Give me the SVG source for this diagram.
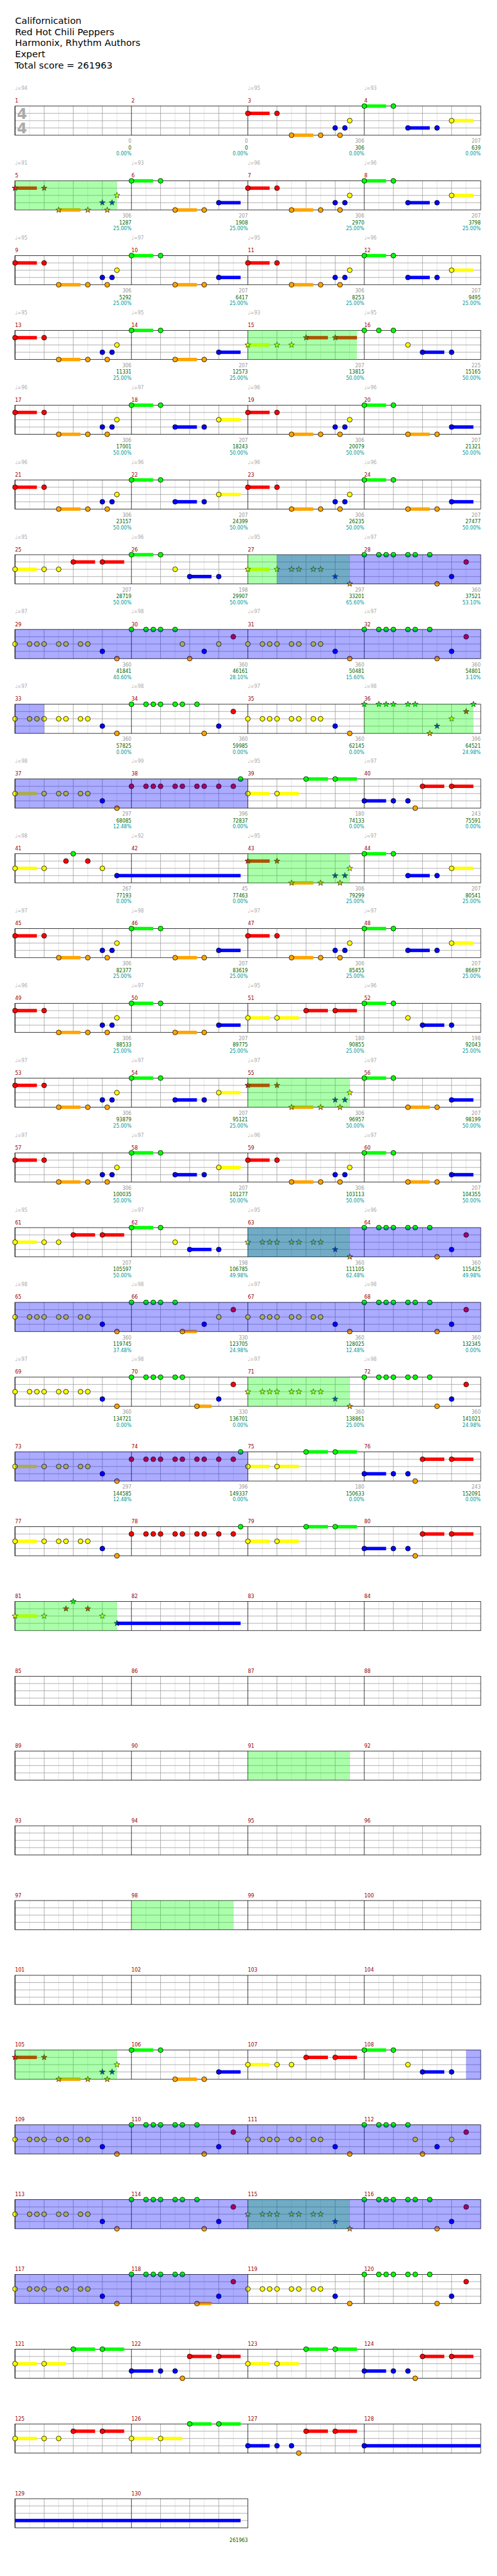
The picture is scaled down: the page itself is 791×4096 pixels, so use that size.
<svg xmlns="http://www.w3.org/2000/svg" xmlns:xlink="http://www.w3.org/1999/xlink" width="791" height="4096" viewBox="0 0 791 4096">
<style>
text{font-family:"DejaVu Sans Condensed","DejaVu Sans",sans-serif;font-stretch:condensed;font-size:11px}
.ti{font-family:"DejaVu Sans",sans-serif;font-stretch:normal;font-size:19px;fill:#000}
.ts{font-family:"DejaVu Sans",sans-serif;font-stretch:normal;font-size:30px;font-weight:bold;fill:#aaa}
.tp{fill:#aaa}.mn{fill:#900;font-size:11.5px}
.sc{text-anchor:end;fill:#999}.s2{fill:#060}.s3{fill:#099}
.lt{fill:none;stroke:#ddd}.md{fill:none;stroke:#999}.bk{fill:none;stroke:#000}.bd{fill:none;stroke:#000}
.g{fill:#0f0}.r{fill:#f00}.y{fill:#ff0}.b{fill:#00f}.o{fill:#ffa500}
circle{stroke:#000;stroke-width:1}
.og{fill:#0f0;fill-opacity:.33}.ob{fill:#00f;fill-opacity:.33}
</style>
<defs>
<path id="st" d="M0,-6.3L1.48,-2.04L5.99,-1.95L2.39,0.78L3.7,5.1L0,2.52L-3.7,5.1L-2.39,0.78L-5.99,-1.95L-1.48,-2.04Z" stroke="#000" stroke-width="0.8"/>
<g id="m"><path class="lt" d="M30,0V60M90,0V60M150,0V60M210,0V60"/><path class="md" d="M60,0V60M120,0V60M180,0V60M0,15H240M0,30H240M0,45H240"/><path class="bk" d="M0,0V60"/></g>
<g id="row"><use href="#m" x="31"/><use href="#m" x="271"/><use href="#m" x="511"/><use href="#m" x="751"/><rect class="bd" x="31" y="0" width="960" height="60"/></g>
<g id="rowh"><use href="#m" x="31"/><use href="#m" x="271"/><rect class="bd" x="31" y="0" width="480" height="60"/></g>
<g id="pA"><rect class="r" x="0" y="11.5" width="45" height="7"/><rect class="o" x="90" y="56.5" width="45" height="7"/><circle class="r" cx="0" cy="15" r="5"/><circle class="r" cx="60" cy="15" r="5"/><circle class="o" cx="90" cy="60" r="5"/><circle class="o" cx="150" cy="60" r="5"/><circle class="b" cx="180" cy="45" r="5"/><circle class="o" cx="190" cy="60" r="5"/><circle class="b" cx="200" cy="45" r="5"/><circle class="y" cx="210" cy="30" r="5"/></g>
<g id="pAs"><rect class="r" x="0" y="11.5" width="45" height="7"/><rect class="o" x="90" y="56.5" width="45" height="7"/><use href="#st" class="r" x="0" y="15"/><use href="#st" class="r" x="60" y="15"/><use href="#st" class="o" x="90" y="60"/><use href="#st" class="o" x="150" y="60"/><use href="#st" class="b" x="180" y="45"/><use href="#st" class="o" x="190" y="60"/><use href="#st" class="b" x="200" y="45"/><use href="#st" class="y" x="210" y="30"/></g>
<g id="pB"><rect class="g" x="0" y="-3.5" width="45" height="7"/><rect class="b" x="90" y="41.5" width="45" height="7"/><rect class="y" x="180" y="26.5" width="45" height="7"/><circle class="g" cx="0" cy="0" r="5"/><circle class="g" cx="60" cy="0" r="5"/><circle class="b" cx="90" cy="45" r="5"/><circle class="b" cx="150" cy="45" r="5"/><circle class="y" cx="180" cy="30" r="5"/></g>
<g id="pC"><rect class="g" x="0" y="-3.5" width="45" height="7"/><rect class="o" x="90" y="56.5" width="45" height="7"/><rect class="b" x="180" y="41.5" width="45" height="7"/><circle class="g" cx="0" cy="0" r="5"/><circle class="g" cx="60" cy="0" r="5"/><circle class="o" cx="90" cy="60" r="5"/><circle class="o" cx="150" cy="60" r="5"/><circle class="b" cx="180" cy="45" r="5"/></g>
<g id="pE"><rect class="b" x="120" y="41.5" width="45" height="7"/><circle class="g" cx="0" cy="0" r="5"/><circle class="g" cx="30" cy="0" r="5"/><circle class="g" cx="60" cy="0" r="5"/><circle class="y" cx="90" cy="30" r="5"/><circle class="b" cx="120" cy="45" r="5"/><circle class="b" cx="180" cy="45" r="5"/></g>
<g id="pE2"><rect class="g" x="0" y="-3.5" width="45" height="7"/><rect class="b" x="120" y="41.5" width="45" height="7"/><circle class="g" cx="0" cy="0" r="5"/><circle class="g" cx="60" cy="0" r="5"/><circle class="y" cx="90" cy="30" r="5"/><circle class="b" cx="120" cy="45" r="5"/><circle class="b" cx="180" cy="45" r="5"/></g>
<g id="pY"><rect class="y" x="0" y="26.5" width="45" height="7"/><rect class="r" x="120" y="11.5" width="45" height="7"/><rect class="r" x="180" y="11.5" width="45" height="7"/><circle class="y" cx="0" cy="30" r="5"/><circle class="y" cx="60" cy="30" r="5"/><circle class="y" cx="90" cy="30" r="5"/><circle class="r" cx="120" cy="15" r="5"/><circle class="r" cx="180" cy="15" r="5"/></g>
<g id="pYs"><rect class="y" x="0" y="26.5" width="45" height="7"/><rect class="r" x="120" y="11.5" width="45" height="7"/><rect class="r" x="180" y="11.5" width="45" height="7"/><use href="#st" class="y" x="0" y="30"/><use href="#st" class="y" x="60" y="30"/><use href="#st" class="y" x="90" y="30"/><use href="#st" class="r" x="120" y="15"/><use href="#st" class="r" x="180" y="15"/></g>
<g id="pF"><circle class="g" cx="0" cy="0" r="5"/><circle class="g" cx="30" cy="0" r="5"/><circle class="g" cx="45" cy="0" r="5"/><circle class="g" cx="60" cy="0" r="5"/><circle class="g" cx="90" cy="0" r="5"/><circle class="g" cx="105" cy="0" r="5"/><circle class="g" cx="135" cy="0" r="5"/><circle class="o" cx="150" cy="60" r="5"/><circle class="b" cx="180" cy="45" r="5"/><circle class="r" cx="210" cy="15" r="5"/></g>
<g id="pG"><circle class="y" cx="0" cy="30" r="5"/><circle class="y" cx="30" cy="30" r="5"/><circle class="y" cx="45" cy="30" r="5"/><circle class="y" cx="60" cy="30" r="5"/><circle class="y" cx="90" cy="30" r="5"/><circle class="y" cx="105" cy="30" r="5"/><circle class="y" cx="135" cy="30" r="5"/><circle class="y" cx="150" cy="30" r="5"/><circle class="b" cx="180" cy="45" r="5"/><circle class="o" cx="210" cy="60" r="5"/></g>
<g id="pGs"><use href="#st" class="y" x="0" y="30"/><use href="#st" class="y" x="30" y="30"/><use href="#st" class="y" x="45" y="30"/><use href="#st" class="y" x="60" y="30"/><use href="#st" class="y" x="90" y="30"/><use href="#st" class="y" x="105" y="30"/><use href="#st" class="y" x="135" y="30"/><use href="#st" class="y" x="150" y="30"/><use href="#st" class="b" x="180" y="45"/><use href="#st" class="o" x="210" y="60"/></g>
<g id="pH"><circle class="g" cx="0" cy="0" r="5"/><circle class="g" cx="30" cy="0" r="5"/><circle class="g" cx="45" cy="0" r="5"/><circle class="g" cx="60" cy="0" r="5"/><circle class="g" cx="90" cy="0" r="5"/><circle class="y" cx="105" cy="30" r="5"/><circle class="o" cx="120" cy="60" r="5"/><circle class="b" cx="150" cy="45" r="5"/><circle class="y" cx="180" cy="30" r="5"/><circle class="r" cx="210" cy="15" r="5"/></g>
<g id="pH2"><rect class="o" x="105" y="56.5" width="30" height="7"/><circle class="g" cx="0" cy="0" r="5"/><circle class="g" cx="30" cy="0" r="5"/><circle class="g" cx="45" cy="0" r="5"/><circle class="g" cx="60" cy="0" r="5"/><circle class="g" cx="90" cy="0" r="5"/><circle class="o" cx="105" cy="60" r="5"/><circle class="b" cx="150" cy="45" r="5"/><circle class="y" cx="180" cy="30" r="5"/><circle class="r" cx="210" cy="15" r="5"/></g>
<g id="pH3"><rect class="o" x="135" y="56.5" width="30" height="7"/><circle class="g" cx="0" cy="0" r="5"/><circle class="g" cx="30" cy="0" r="5"/><circle class="g" cx="45" cy="0" r="5"/><circle class="g" cx="60" cy="0" r="5"/><circle class="g" cx="90" cy="0" r="5"/><circle class="g" cx="105" cy="0" r="5"/><circle class="o" cx="135" cy="60" r="5"/><circle class="b" cx="180" cy="45" r="5"/><circle class="r" cx="210" cy="15" r="5"/></g>
<g id="pKs"><rect class="y" x="0" y="26.5" width="45" height="7"/><use href="#st" class="y" x="0" y="30"/><use href="#st" class="y" x="60" y="30"/><use href="#st" class="y" x="90" y="30"/><use href="#st" class="y" x="105" y="30"/><use href="#st" class="y" x="135" y="30"/><use href="#st" class="y" x="150" y="30"/><use href="#st" class="b" x="180" y="45"/><use href="#st" class="o" x="210" y="60"/></g>
<g id="pL"><rect class="y" x="0" y="26.5" width="45" height="7"/><circle class="y" cx="0" cy="30" r="5"/><circle class="y" cx="60" cy="30" r="5"/><circle class="y" cx="90" cy="30" r="5"/><circle class="y" cx="105" cy="30" r="5"/><circle class="y" cx="135" cy="30" r="5"/><circle class="y" cx="150" cy="30" r="5"/><circle class="b" cx="180" cy="45" r="5"/><circle class="o" cx="210" cy="60" r="5"/></g>
<g id="pIs"><use href="#st" class="g" x="0" y="0"/><use href="#st" class="g" x="30" y="0"/><use href="#st" class="g" x="45" y="0"/><use href="#st" class="g" x="60" y="0"/><use href="#st" class="g" x="90" y="0"/><use href="#st" class="g" x="105" y="0"/><use href="#st" class="o" x="135" y="60"/><use href="#st" class="b" x="150" y="45"/><use href="#st" class="y" x="180" y="30"/><use href="#st" class="r" x="210" y="15"/><use href="#st" class="g" x="225" y="0"/></g>
<g id="pM"><circle class="r" cx="0" cy="15" r="5"/><circle class="r" cx="30" cy="15" r="5"/><circle class="r" cx="45" cy="15" r="5"/><circle class="r" cx="60" cy="15" r="5"/><circle class="r" cx="90" cy="15" r="5"/><circle class="r" cx="105" cy="15" r="5"/><circle class="r" cx="135" cy="15" r="5"/><circle class="r" cx="150" cy="15" r="5"/><circle class="r" cx="180" cy="15" r="5"/><circle class="r" cx="210" cy="15" r="5"/><circle class="g" cx="225" cy="0" r="5"/></g>
<g id="pN"><rect class="y" x="0" y="26.5" width="45" height="7"/><rect class="y" x="60" y="26.5" width="45" height="7"/><rect class="g" x="120" y="-3.5" width="45" height="7"/><rect class="g" x="180" y="-3.5" width="45" height="7"/><circle class="y" cx="0" cy="30" r="5"/><circle class="y" cx="60" cy="30" r="5"/><circle class="g" cx="120" cy="0" r="5"/><circle class="g" cx="180" cy="0" r="5"/></g>
<g id="pN2"><rect class="y" x="0" y="26.5" width="45" height="7"/><rect class="y" x="60" y="26.5" width="45" height="7"/><rect class="r" x="120" y="11.5" width="45" height="7"/><rect class="r" x="180" y="11.5" width="45" height="7"/><circle class="y" cx="0" cy="30" r="5"/><circle class="y" cx="60" cy="30" r="5"/><circle class="r" cx="120" cy="15" r="5"/><circle class="r" cx="180" cy="15" r="5"/></g>
<g id="pP"><rect class="b" x="0" y="41.5" width="45" height="7"/><rect class="r" x="120" y="11.5" width="45" height="7"/><rect class="r" x="180" y="11.5" width="45" height="7"/><circle class="b" cx="0" cy="45" r="5"/><circle class="b" cx="60" cy="45" r="5"/><circle class="b" cx="90" cy="45" r="5"/><circle class="o" cx="105" cy="60" r="5"/><circle class="r" cx="120" cy="15" r="5"/><circle class="r" cx="180" cy="15" r="5"/></g>
<g id="pQ"><rect class="y" x="0" y="26.5" width="45" height="7"/><rect class="b" x="210" y="41.5" width="255" height="7"/><circle class="y" cx="0" cy="30" r="5"/><circle class="y" cx="60" cy="30" r="5"/><circle class="r" cx="105" cy="15" r="5"/><circle class="g" cx="120" cy="0" r="5"/><circle class="r" cx="150" cy="15" r="5"/><circle class="y" cx="180" cy="30" r="5"/><circle class="b" cx="210" cy="45" r="5"/></g>
<g id="pQs"><rect class="y" x="0" y="26.5" width="45" height="7"/><rect class="b" x="210" y="41.5" width="255" height="7"/><use href="#st" class="y" x="0" y="30"/><use href="#st" class="y" x="60" y="30"/><use href="#st" class="r" x="105" y="15"/><use href="#st" class="g" x="120" y="0"/><use href="#st" class="r" x="150" y="15"/><use href="#st" class="y" x="180" y="30"/><use href="#st" class="b" x="210" y="45"/></g>
</defs>
<rect width="791" height="4096" fill="#fff"/>
<g transform="scale(0.772)">
<g id="title">
<text class="ti" x="31" y="49">Californication</text>
<text class="ti" x="31" y="72">Red Hot Chili Peppers</text>
<text class="ti" x="31" y="95">Harmonix, Rhythm Authors</text>
<text class="ti" x="31" y="118">Expert</text>
<text class="ti" x="30" y="141">Total score = 261963</text>
</g>

<g id="r0" transform="translate(0,218.5)"><use href="#row"/>
<g id="m1"><text class="tp" x="31" y="-33">♩=94</text><text class="mn" x="31" y="-7">1</text><text class="ts" x="35" y="26.5">4</text><text class="ts" x="35" y="56.5">4</text><text class="sc" x="271" y="76">0</text><text class="sc s2" x="271" y="89.5">0</text><text class="sc s3" x="271" y="102">0.00%</text></g>
<g id="m2"><text class="mn" x="271" y="-7">2</text><text class="sc" x="511" y="76">0</text><text class="sc s2" x="511" y="89.5">0</text><text class="sc s3" x="511" y="102">0.00%</text></g>
<g id="m3"><text class="tp" x="511" y="-33">♩=95</text><text class="mn" x="511" y="-7">3</text><use href="#pA" x="511"/><text class="sc" x="751" y="76">306</text><text class="sc s2" x="751" y="89.5">306</text><text class="sc s3" x="751" y="102">0.00%</text></g>
<g id="m4"><text class="tp" x="751" y="-33">♩=93</text><text class="mn" x="751" y="-7">4</text><use href="#pB" x="751"/><text class="sc" x="991" y="76">207</text><text class="sc s2" x="991" y="89.5">639</text><text class="sc s3" x="991" y="102">0.00%</text></g>
</g>

<g id="r1" transform="translate(0,372.5)"><use href="#row"/>
<g id="m5"><text class="tp" x="31" y="-33">♩=91</text><text class="mn" x="31" y="-7">5</text><use href="#pAs" x="31"/><text class="sc" x="271" y="76">306</text><text class="sc s2" x="271" y="89.5">1287</text><text class="sc s3" x="271" y="102">25.00%</text></g>
<g id="m6"><text class="tp" x="271" y="-33">♩=93</text><text class="mn" x="271" y="-7">6</text><use href="#pC" x="271"/><text class="sc" x="511" y="76">207</text><text class="sc s2" x="511" y="89.5">1908</text><text class="sc s3" x="511" y="102">25.00%</text></g>
<g id="m7"><text class="tp" x="511" y="-33">♩=96</text><text class="mn" x="511" y="-7">7</text><use href="#pA" x="511"/><text class="sc" x="751" y="76">306</text><text class="sc s2" x="751" y="89.5">2970</text><text class="sc s3" x="751" y="102">25.00%</text></g>
<g id="m8"><text class="tp" x="751" y="-33">♩=96</text><text class="mn" x="751" y="-7">8</text><use href="#pB" x="751"/><text class="sc" x="991" y="76">207</text><text class="sc s2" x="991" y="89.5">3798</text><text class="sc s3" x="991" y="102">25.00%</text></g>
<rect class="og" x="31" y="0" width="210" height="60"/>
</g>

<g id="r2" transform="translate(0,526.5)"><use href="#row"/>
<g id="m9"><text class="tp" x="31" y="-33">♩=95</text><text class="mn" x="31" y="-7">9</text><use href="#pA" x="31"/><text class="sc" x="271" y="76">306</text><text class="sc s2" x="271" y="89.5">5292</text><text class="sc s3" x="271" y="102">25.00%</text></g>
<g id="m10"><text class="tp" x="271" y="-33">♩=97</text><text class="mn" x="271" y="-7">10</text><use href="#pC" x="271"/><text class="sc" x="511" y="76">207</text><text class="sc s2" x="511" y="89.5">6417</text><text class="sc s3" x="511" y="102">25.00%</text></g>
<g id="m11"><text class="tp" x="511" y="-33">♩=95</text><text class="mn" x="511" y="-7">11</text><use href="#pA" x="511"/><text class="sc" x="751" y="76">306</text><text class="sc s2" x="751" y="89.5">8253</text><text class="sc s3" x="751" y="102">25.00%</text></g>
<g id="m12"><text class="tp" x="751" y="-33">♩=96</text><text class="mn" x="751" y="-7">12</text><use href="#pB" x="751"/><text class="sc" x="991" y="76">207</text><text class="sc s2" x="991" y="89.5">9495</text><text class="sc s3" x="991" y="102">25.00%</text></g>
</g>

<g id="r3" transform="translate(0,680.5)"><use href="#row"/>
<g id="m13"><text class="tp" x="31" y="-33">♩=95</text><text class="mn" x="31" y="-7">13</text><use href="#pA" x="31"/><text class="sc" x="271" y="76">306</text><text class="sc s2" x="271" y="89.5">11331</text><text class="sc s3" x="271" y="102">25.00%</text></g>
<g id="m14"><text class="tp" x="271" y="-33">♩=95</text><text class="mn" x="271" y="-7">14</text><use href="#pC" x="271"/><text class="sc" x="511" y="76">207</text><text class="sc s2" x="511" y="89.5">12573</text><text class="sc s3" x="511" y="102">25.00%</text></g>
<g id="m15"><text class="tp" x="511" y="-33">♩=93</text><text class="mn" x="511" y="-7">15</text><use href="#pYs" x="511"/><text class="sc" x="751" y="76">207</text><text class="sc s2" x="751" y="89.5">13815</text><text class="sc s3" x="751" y="102">50.00%</text></g>
<g id="m16"><text class="tp" x="751" y="-33">♩=95</text><text class="mn" x="751" y="-7">16</text><use href="#pE" x="751"/><text class="sc" x="991" y="76">225</text><text class="sc s2" x="991" y="89.5">15165</text><text class="sc s3" x="991" y="102">50.00%</text></g>
<rect class="og" x="511" y="0" width="225" height="60"/>
</g>

<g id="r4" transform="translate(0,834.5)"><use href="#row"/>
<g id="m17"><text class="tp" x="31" y="-33">♩=96</text><text class="mn" x="31" y="-7">17</text><use href="#pA" x="31"/><text class="sc" x="271" y="76">306</text><text class="sc s2" x="271" y="89.5">17001</text><text class="sc s3" x="271" y="102">50.00%</text></g>
<g id="m18"><text class="tp" x="271" y="-33">♩=97</text><text class="mn" x="271" y="-7">18</text><use href="#pB" x="271"/><text class="sc" x="511" y="76">207</text><text class="sc s2" x="511" y="89.5">18243</text><text class="sc s3" x="511" y="102">50.00%</text></g>
<g id="m19"><text class="tp" x="511" y="-33">♩=96</text><text class="mn" x="511" y="-7">19</text><use href="#pA" x="511"/><text class="sc" x="751" y="76">306</text><text class="sc s2" x="751" y="89.5">20079</text><text class="sc s3" x="751" y="102">50.00%</text></g>
<g id="m20"><text class="tp" x="751" y="-33">♩=96</text><text class="mn" x="751" y="-7">20</text><use href="#pC" x="751"/><text class="sc" x="991" y="76">207</text><text class="sc s2" x="991" y="89.5">21321</text><text class="sc s3" x="991" y="102">50.00%</text></g>
</g>

<g id="r5" transform="translate(0,988.5)"><use href="#row"/>
<g id="m21"><text class="tp" x="31" y="-33">♩=96</text><text class="mn" x="31" y="-7">21</text><use href="#pA" x="31"/><text class="sc" x="271" y="76">306</text><text class="sc s2" x="271" y="89.5">23157</text><text class="sc s3" x="271" y="102">50.00%</text></g>
<g id="m22"><text class="tp" x="271" y="-33">♩=96</text><text class="mn" x="271" y="-7">22</text><use href="#pB" x="271"/><text class="sc" x="511" y="76">207</text><text class="sc s2" x="511" y="89.5">24399</text><text class="sc s3" x="511" y="102">50.00%</text></g>
<g id="m23"><text class="tp" x="511" y="-33">♩=96</text><text class="mn" x="511" y="-7">23</text><use href="#pA" x="511"/><text class="sc" x="751" y="76">306</text><text class="sc s2" x="751" y="89.5">26235</text><text class="sc s3" x="751" y="102">50.00%</text></g>
<g id="m24"><text class="tp" x="751" y="-33">♩=96</text><text class="mn" x="751" y="-7">24</text><use href="#pC" x="751"/><text class="sc" x="991" y="76">207</text><text class="sc s2" x="991" y="89.5">27477</text><text class="sc s3" x="991" y="102">50.00%</text></g>
</g>

<g id="r6" transform="translate(0,1142.5)"><use href="#row"/>
<g id="m25"><text class="tp" x="31" y="-33">♩=95</text><text class="mn" x="31" y="-7">25</text><use href="#pY" x="31"/><text class="sc" x="271" y="76">207</text><text class="sc s2" x="271" y="89.5">28719</text><text class="sc s3" x="271" y="102">50.00%</text></g>
<g id="m26"><text class="tp" x="271" y="-33">♩=96</text><text class="mn" x="271" y="-7">26</text><use href="#pE2" x="271"/><text class="sc" x="511" y="76">198</text><text class="sc s2" x="511" y="89.5">29907</text><text class="sc s3" x="511" y="102">50.00%</text></g>
<g id="m27"><text class="tp" x="511" y="-33">♩=95</text><text class="mn" x="511" y="-7">27</text><use href="#pKs" x="511"/><text class="sc" x="751" y="76">297</text><text class="sc s2" x="751" y="89.5">33201</text><text class="sc s3" x="751" y="102">65.60%</text></g>
<g id="m28"><text class="tp" x="751" y="-33">♩=97</text><text class="mn" x="751" y="-7">28</text><use href="#pF" x="751"/><text class="sc" x="991" y="76">360</text><text class="sc s2" x="991" y="89.5">37521</text><text class="sc s3" x="991" y="102">53.10%</text></g>
<rect class="og" x="511" y="0" width="210" height="60"/><rect class="ob" x="571" y="0" width="420" height="60"/>
</g>

<g id="r7" transform="translate(0,1296.5)"><use href="#row"/>
<g id="m29"><text class="tp" x="31" y="-33">♩=97</text><text class="mn" x="31" y="-7">29</text><use href="#pG" x="31"/><text class="sc" x="271" y="76">360</text><text class="sc s2" x="271" y="89.5">41841</text><text class="sc s3" x="271" y="102">40.60%</text></g>
<g id="m30"><text class="tp" x="271" y="-33">♩=98</text><text class="mn" x="271" y="-7">30</text><use href="#pH" x="271"/><text class="sc" x="511" y="76">360</text><text class="sc s2" x="511" y="89.5">46161</text><text class="sc s3" x="511" y="102">28.10%</text></g>
<g id="m31"><text class="tp" x="511" y="-33">♩=97</text><text class="mn" x="511" y="-7">31</text><use href="#pG" x="511"/><text class="sc" x="751" y="76">360</text><text class="sc s2" x="751" y="89.5">50481</text><text class="sc s3" x="751" y="102">15.60%</text></g>
<g id="m32"><text class="tp" x="751" y="-33">♩=97</text><text class="mn" x="751" y="-7">32</text><use href="#pF" x="751"/><text class="sc" x="991" y="76">360</text><text class="sc s2" x="991" y="89.5">54801</text><text class="sc s3" x="991" y="102">3.10%</text></g>
<rect class="ob" x="31" y="0" width="960" height="60"/>
</g>

<g id="r8" transform="translate(0,1450.5)"><use href="#row"/>
<g id="m33"><text class="tp" x="31" y="-33">♩=97</text><text class="mn" x="31" y="-7">33</text><use href="#pG" x="31"/><text class="sc" x="271" y="76">360</text><text class="sc s2" x="271" y="89.5">57825</text><text class="sc s3" x="271" y="102">0.00%</text></g>
<g id="m34"><text class="tp" x="271" y="-33">♩=98</text><text class="mn" x="271" y="-7">34</text><use href="#pF" x="271"/><text class="sc" x="511" y="76">360</text><text class="sc s2" x="511" y="89.5">59985</text><text class="sc s3" x="511" y="102">0.00%</text></g>
<g id="m35"><text class="tp" x="511" y="-33">♩=97</text><text class="mn" x="511" y="-7">35</text><use href="#pG" x="511"/><text class="sc" x="751" y="76">360</text><text class="sc s2" x="751" y="89.5">62145</text><text class="sc s3" x="751" y="102">0.00%</text></g>
<g id="m36"><text class="tp" x="751" y="-33">♩=98</text><text class="mn" x="751" y="-7">36</text><use href="#pIs" x="751"/><text class="sc" x="991" y="76">396</text><text class="sc s2" x="991" y="89.5">64521</text><text class="sc s3" x="991" y="102">24.98%</text></g>
<rect class="ob" x="31" y="0" width="60" height="60"/><rect class="og" x="751" y="0" width="225" height="60"/>
</g>

<g id="r9" transform="translate(0,1604.5)"><use href="#row"/>
<g id="m37"><text class="tp" x="31" y="-33">♩=98</text><text class="mn" x="31" y="-7">37</text><use href="#pL" x="31"/><text class="sc" x="271" y="76">297</text><text class="sc s2" x="271" y="89.5">68085</text><text class="sc s3" x="271" y="102">12.48%</text></g>
<g id="m38"><text class="tp" x="271" y="-33">♩=99</text><text class="mn" x="271" y="-7">38</text><use href="#pM" x="271"/><text class="sc" x="511" y="76">396</text><text class="sc s2" x="511" y="89.5">72837</text><text class="sc s3" x="511" y="102">0.00%</text></g>
<g id="m39"><text class="tp" x="511" y="-33">♩=95</text><text class="mn" x="511" y="-7">39</text><use href="#pN" x="511"/><text class="sc" x="751" y="76">180</text><text class="sc s2" x="751" y="89.5">74133</text><text class="sc s3" x="751" y="102">0.00%</text></g>
<g id="m40"><text class="tp" x="751" y="-33">♩=97</text><text class="mn" x="751" y="-7">40</text><use href="#pP" x="751"/><text class="sc" x="991" y="76">243</text><text class="sc s2" x="991" y="89.5">75591</text><text class="sc s3" x="991" y="102">0.00%</text></g>
<rect class="ob" x="31" y="0" width="480" height="60"/>
</g>

<g id="r10" transform="translate(0,1758.5)"><use href="#row"/>
<g id="m41"><text class="tp" x="31" y="-33">♩=98</text><text class="mn" x="31" y="-7">41</text><use href="#pQ" x="31"/><text class="sc" x="271" y="76">267</text><text class="sc s2" x="271" y="89.5">77193</text><text class="sc s3" x="271" y="102">0.00%</text></g>
<g id="m42"><text class="tp" x="271" y="-33">♩=92</text><text class="mn" x="271" y="-7">42</text><text class="sc" x="511" y="76">45</text><text class="sc s2" x="511" y="89.5">77463</text><text class="sc s3" x="511" y="102">0.00%</text></g>
<g id="m43"><text class="tp" x="511" y="-33">♩=95</text><text class="mn" x="511" y="-7">43</text><use href="#pAs" x="511"/><text class="sc" x="751" y="76">306</text><text class="sc s2" x="751" y="89.5">79299</text><text class="sc s3" x="751" y="102">25.00%</text></g>
<g id="m44"><text class="tp" x="751" y="-33">♩=97</text><text class="mn" x="751" y="-7">44</text><use href="#pB" x="751"/><text class="sc" x="991" y="76">207</text><text class="sc s2" x="991" y="89.5">80541</text><text class="sc s3" x="991" y="102">25.00%</text></g>
<rect class="og" x="511" y="0" width="210" height="60"/>
</g>

<g id="r11" transform="translate(0,1912.5)"><use href="#row"/>
<g id="m45"><text class="tp" x="31" y="-33">♩=97</text><text class="mn" x="31" y="-7">45</text><use href="#pA" x="31"/><text class="sc" x="271" y="76">306</text><text class="sc s2" x="271" y="89.5">82377</text><text class="sc s3" x="271" y="102">25.00%</text></g>
<g id="m46"><text class="tp" x="271" y="-33">♩=98</text><text class="mn" x="271" y="-7">46</text><use href="#pC" x="271"/><text class="sc" x="511" y="76">207</text><text class="sc s2" x="511" y="89.5">83619</text><text class="sc s3" x="511" y="102">25.00%</text></g>
<g id="m47"><text class="tp" x="511" y="-33">♩=97</text><text class="mn" x="511" y="-7">47</text><use href="#pA" x="511"/><text class="sc" x="751" y="76">306</text><text class="sc s2" x="751" y="89.5">85455</text><text class="sc s3" x="751" y="102">25.00%</text></g>
<g id="m48"><text class="tp" x="751" y="-33">♩=97</text><text class="mn" x="751" y="-7">48</text><use href="#pB" x="751"/><text class="sc" x="991" y="76">207</text><text class="sc s2" x="991" y="89.5">86697</text><text class="sc s3" x="991" y="102">25.00%</text></g>
</g>

<g id="r12" transform="translate(0,2066.5)"><use href="#row"/>
<g id="m49"><text class="tp" x="31" y="-33">♩=96</text><text class="mn" x="31" y="-7">49</text><use href="#pA" x="31"/><text class="sc" x="271" y="76">306</text><text class="sc s2" x="271" y="89.5">88533</text><text class="sc s3" x="271" y="102">25.00%</text></g>
<g id="m50"><text class="tp" x="271" y="-33">♩=97</text><text class="mn" x="271" y="-7">50</text><use href="#pC" x="271"/><text class="sc" x="511" y="76">207</text><text class="sc s2" x="511" y="89.5">89775</text><text class="sc s3" x="511" y="102">25.00%</text></g>
<g id="m51"><text class="tp" x="511" y="-33">♩=95</text><text class="mn" x="511" y="-7">51</text><use href="#pN2" x="511"/><text class="sc" x="751" y="76">180</text><text class="sc s2" x="751" y="89.5">90855</text><text class="sc s3" x="751" y="102">25.00%</text></g>
<g id="m52"><text class="tp" x="751" y="-33">♩=96</text><text class="mn" x="751" y="-7">52</text><use href="#pE2" x="751"/><text class="sc" x="991" y="76">198</text><text class="sc s2" x="991" y="89.5">92043</text><text class="sc s3" x="991" y="102">25.00%</text></g>
</g>

<g id="r13" transform="translate(0,2220.5)"><use href="#row"/>
<g id="m53"><text class="tp" x="31" y="-33">♩=97</text><text class="mn" x="31" y="-7">53</text><use href="#pA" x="31"/><text class="sc" x="271" y="76">306</text><text class="sc s2" x="271" y="89.5">93879</text><text class="sc s3" x="271" y="102">25.00%</text></g>
<g id="m54"><text class="tp" x="271" y="-33">♩=97</text><text class="mn" x="271" y="-7">54</text><use href="#pB" x="271"/><text class="sc" x="511" y="76">207</text><text class="sc s2" x="511" y="89.5">95121</text><text class="sc s3" x="511" y="102">25.00%</text></g>
<g id="m55"><text class="tp" x="511" y="-33">♩=97</text><text class="mn" x="511" y="-7">55</text><use href="#pAs" x="511"/><text class="sc" x="751" y="76">306</text><text class="sc s2" x="751" y="89.5">96957</text><text class="sc s3" x="751" y="102">50.00%</text></g>
<g id="m56"><text class="tp" x="751" y="-33">♩=97</text><text class="mn" x="751" y="-7">56</text><use href="#pC" x="751"/><text class="sc" x="991" y="76">207</text><text class="sc s2" x="991" y="89.5">98199</text><text class="sc s3" x="991" y="102">50.00%</text></g>
<rect class="og" x="511" y="0" width="210" height="60"/>
</g>

<g id="r14" transform="translate(0,2374.5)"><use href="#row"/>
<g id="m57"><text class="tp" x="31" y="-33">♩=97</text><text class="mn" x="31" y="-7">57</text><use href="#pA" x="31"/><text class="sc" x="271" y="76">306</text><text class="sc s2" x="271" y="89.5">100035</text><text class="sc s3" x="271" y="102">50.00%</text></g>
<g id="m58"><text class="tp" x="271" y="-33">♩=97</text><text class="mn" x="271" y="-7">58</text><use href="#pB" x="271"/><text class="sc" x="511" y="76">207</text><text class="sc s2" x="511" y="89.5">101277</text><text class="sc s3" x="511" y="102">50.00%</text></g>
<g id="m59"><text class="tp" x="511" y="-33">♩=96</text><text class="mn" x="511" y="-7">59</text><use href="#pA" x="511"/><text class="sc" x="751" y="76">306</text><text class="sc s2" x="751" y="89.5">103113</text><text class="sc s3" x="751" y="102">50.00%</text></g>
<g id="m60"><text class="tp" x="751" y="-33">♩=97</text><text class="mn" x="751" y="-7">60</text><use href="#pC" x="751"/><text class="sc" x="991" y="76">207</text><text class="sc s2" x="991" y="89.5">104355</text><text class="sc s3" x="991" y="102">50.00%</text></g>
</g>

<g id="r15" transform="translate(0,2528.5)"><use href="#row"/>
<g id="m61"><text class="tp" x="31" y="-33">♩=95</text><text class="mn" x="31" y="-7">61</text><use href="#pY" x="31"/><text class="sc" x="271" y="76">207</text><text class="sc s2" x="271" y="89.5">105597</text><text class="sc s3" x="271" y="102">50.00%</text></g>
<g id="m62"><text class="tp" x="271" y="-33">♩=97</text><text class="mn" x="271" y="-7">62</text><use href="#pE2" x="271"/><text class="sc" x="511" y="76">198</text><text class="sc s2" x="511" y="89.5">106785</text><text class="sc s3" x="511" y="102">49.98%</text></g>
<g id="m63"><text class="tp" x="511" y="-33">♩=95</text><text class="mn" x="511" y="-7">63</text><use href="#pGs" x="511"/><text class="sc" x="751" y="76">360</text><text class="sc s2" x="751" y="89.5">111105</text><text class="sc s3" x="751" y="102">62.48%</text></g>
<g id="m64"><text class="tp" x="751" y="-33">♩=96</text><text class="mn" x="751" y="-7">64</text><use href="#pF" x="751"/><text class="sc" x="991" y="76">360</text><text class="sc s2" x="991" y="89.5">115425</text><text class="sc s3" x="991" y="102">49.98%</text></g>
<rect class="og" x="511" y="0" width="210" height="60"/><rect class="ob" x="511" y="0" width="480" height="60"/>
</g>

<g id="r16" transform="translate(0,2682.5)"><use href="#row"/>
<g id="m65"><text class="tp" x="31" y="-33">♩=98</text><text class="mn" x="31" y="-7">65</text><use href="#pG" x="31"/><text class="sc" x="271" y="76">360</text><text class="sc s2" x="271" y="89.5">119745</text><text class="sc s3" x="271" y="102">37.48%</text></g>
<g id="m66"><text class="tp" x="271" y="-33">♩=98</text><text class="mn" x="271" y="-7">66</text><use href="#pH2" x="271"/><text class="sc" x="511" y="76">330</text><text class="sc s2" x="511" y="89.5">123705</text><text class="sc s3" x="511" y="102">24.98%</text></g>
<g id="m67"><text class="tp" x="511" y="-33">♩=97</text><text class="mn" x="511" y="-7">67</text><use href="#pG" x="511"/><text class="sc" x="751" y="76">360</text><text class="sc s2" x="751" y="89.5">128025</text><text class="sc s3" x="751" y="102">12.48%</text></g>
<g id="m68"><text class="tp" x="751" y="-33">♩=98</text><text class="mn" x="751" y="-7">68</text><use href="#pF" x="751"/><text class="sc" x="991" y="76">360</text><text class="sc s2" x="991" y="89.5">132345</text><text class="sc s3" x="991" y="102">0.00%</text></g>
<rect class="ob" x="31" y="0" width="960" height="60"/>
</g>

<g id="r17" transform="translate(0,2836.5)"><use href="#row"/>
<g id="m69"><text class="tp" x="31" y="-33">♩=97</text><text class="mn" x="31" y="-7">69</text><use href="#pG" x="31"/><text class="sc" x="271" y="76">360</text><text class="sc s2" x="271" y="89.5">134721</text><text class="sc s3" x="271" y="102">0.00%</text></g>
<g id="m70"><text class="tp" x="271" y="-33">♩=98</text><text class="mn" x="271" y="-7">70</text><use href="#pH3" x="271"/><text class="sc" x="511" y="76">330</text><text class="sc s2" x="511" y="89.5">136701</text><text class="sc s3" x="511" y="102">0.00%</text></g>
<g id="m71"><text class="tp" x="511" y="-33">♩=97</text><text class="mn" x="511" y="-7">71</text><use href="#pGs" x="511"/><text class="sc" x="751" y="76">360</text><text class="sc s2" x="751" y="89.5">138861</text><text class="sc s3" x="751" y="102">25.00%</text></g>
<g id="m72"><text class="tp" x="751" y="-33">♩=98</text><text class="mn" x="751" y="-7">72</text><use href="#pF" x="751"/><text class="sc" x="991" y="76">360</text><text class="sc s2" x="991" y="89.5">141021</text><text class="sc s3" x="991" y="102">24.98%</text></g>
<rect class="og" x="511" y="0" width="210" height="60"/>
</g>

<g id="r18" transform="translate(0,2990.5)"><use href="#row"/>
<g id="m73"><text class="mn" x="31" y="-7">73</text><use href="#pL" x="31"/><text class="sc" x="271" y="76">297</text><text class="sc s2" x="271" y="89.5">144585</text><text class="sc s3" x="271" y="102">12.48%</text></g>
<g id="m74"><text class="mn" x="271" y="-7">74</text><use href="#pM" x="271"/><text class="sc" x="511" y="76">396</text><text class="sc s2" x="511" y="89.5">149337</text><text class="sc s3" x="511" y="102">0.00%</text></g>
<g id="m75"><text class="mn" x="511" y="-7">75</text><use href="#pN" x="511"/><text class="sc" x="751" y="76">180</text><text class="sc s2" x="751" y="89.5">150633</text><text class="sc s3" x="751" y="102">0.00%</text></g>
<g id="m76"><text class="mn" x="751" y="-7">76</text><use href="#pP" x="751"/><text class="sc" x="991" y="76">243</text><text class="sc s2" x="991" y="89.5">152091</text><text class="sc s3" x="991" y="102">0.00%</text></g>
<rect class="ob" x="31" y="0" width="480" height="60"/>
</g>

<g id="r19" transform="translate(0,3144.5)"><use href="#row"/>
<g id="m77"><text class="mn" x="31" y="-7">77</text><use href="#pL" x="31"/></g>
<g id="m78"><text class="mn" x="271" y="-7">78</text><use href="#pM" x="271"/></g>
<g id="m79"><text class="mn" x="511" y="-7">79</text><use href="#pN" x="511"/></g>
<g id="m80"><text class="mn" x="751" y="-7">80</text><use href="#pP" x="751"/></g>
</g>

<g id="r20" transform="translate(0,3298.5)"><use href="#row"/>
<g id="m81"><text class="mn" x="31" y="-7">81</text><use href="#pQs" x="31"/></g>
<g id="m82"><text class="mn" x="271" y="-7">82</text></g>
<g id="m83"><text class="mn" x="511" y="-7">83</text></g>
<g id="m84"><text class="mn" x="751" y="-7">84</text></g>
<rect class="og" x="31" y="0" width="210" height="60"/>
</g>

<g id="r21" transform="translate(0,3452.5)"><use href="#row"/><text class="mn" x="31" y="-7">85</text><text class="mn" x="271" y="-7">86</text><text class="mn" x="511" y="-7">87</text><text class="mn" x="751" y="-7">88</text></g>
<g id="r22" transform="translate(0,3606.5)"><use href="#row"/><text class="mn" x="31" y="-7">89</text><text class="mn" x="271" y="-7">90</text><text class="mn" x="511" y="-7">91</text><text class="mn" x="751" y="-7">92</text><rect class="og" x="511" y="0" width="210" height="60"/></g>
<g id="r23" transform="translate(0,3760.5)"><use href="#row"/><text class="mn" x="31" y="-7">93</text><text class="mn" x="271" y="-7">94</text><text class="mn" x="511" y="-7">95</text><text class="mn" x="751" y="-7">96</text></g>
<g id="r24" transform="translate(0,3914.5)"><use href="#row"/><text class="mn" x="31" y="-7">97</text><text class="mn" x="271" y="-7">98</text><text class="mn" x="511" y="-7">99</text><text class="mn" x="751" y="-7">100</text><rect class="og" x="271" y="0" width="210" height="60"/></g>
<g id="r25" transform="translate(0,4068.5)"><use href="#row"/><text class="mn" x="31" y="-7">101</text><text class="mn" x="271" y="-7">102</text><text class="mn" x="511" y="-7">103</text><text class="mn" x="751" y="-7">104</text></g>

<g id="r26" transform="translate(0,4222.5)"><use href="#row"/>
<g id="m105"><text class="mn" x="31" y="-7">105</text><use href="#pAs" x="31"/></g>
<g id="m106"><text class="mn" x="271" y="-7">106</text><use href="#pC" x="271"/></g>
<g id="m107"><text class="mn" x="511" y="-7">107</text><use href="#pY" x="511"/></g>
<g id="m108"><text class="mn" x="751" y="-7">108</text><use href="#pE2" x="751"/></g>
<rect class="og" x="31" y="0" width="210" height="60"/><rect class="ob" x="961" y="0" width="30" height="60"/>
</g>

<g id="r27" transform="translate(0,4376.5)"><use href="#row"/>
<g id="m109"><text class="mn" x="31" y="-7">109</text><use href="#pG" x="31"/></g>
<g id="m110"><text class="mn" x="271" y="-7">110</text><use href="#pF" x="271"/></g>
<g id="m111"><text class="mn" x="511" y="-7">111</text><use href="#pG" x="511"/></g>
<g id="m112"><text class="mn" x="751" y="-7">112</text><use href="#pH" x="751"/></g>
<rect class="ob" x="31" y="0" width="960" height="60"/>
</g>

<g id="r28" transform="translate(0,4530.5)"><use href="#row"/>
<g id="m113"><text class="mn" x="31" y="-7">113</text><use href="#pG" x="31"/></g>
<g id="m114"><text class="mn" x="271" y="-7">114</text><use href="#pF" x="271"/></g>
<g id="m115"><text class="mn" x="511" y="-7">115</text><use href="#pGs" x="511"/></g>
<g id="m116"><text class="mn" x="751" y="-7">116</text><use href="#pF" x="751"/></g>
<rect class="og" x="511" y="0" width="210" height="60"/><rect class="ob" x="31" y="0" width="960" height="60"/>
</g>

<g id="r29" transform="translate(0,4684.5)"><use href="#row"/>
<g id="m117"><text class="mn" x="31" y="-7">117</text><use href="#pG" x="31"/></g>
<g id="m118"><text class="mn" x="271" y="-7">118</text><use href="#pH3" x="271"/></g>
<g id="m119"><text class="mn" x="511" y="-7">119</text><use href="#pG" x="511"/></g>
<g id="m120"><text class="mn" x="751" y="-7">120</text><use href="#pF" x="751"/></g>
<rect class="ob" x="31" y="0" width="480" height="60"/>
</g>

<g id="r30" transform="translate(0,4838.5)"><use href="#row"/>
<g id="m121"><text class="mn" x="31" y="-7">121</text><use href="#pN" x="31"/></g>
<g id="m122"><text class="mn" x="271" y="-7">122</text><use href="#pP" x="271"/></g>
<g id="m123"><text class="mn" x="511" y="-7">123</text><use href="#pN" x="511"/></g>
<g id="m124"><text class="mn" x="751" y="-7">124</text><use href="#pP" x="751"/></g>
</g>

<g id="r31" transform="translate(0,4992.5)"><use href="#row"/>
<g id="m125"><text class="mn" x="31" y="-7">125</text><use href="#pY" x="31"/></g>
<g id="m126"><text class="mn" x="271" y="-7">126</text><use href="#pN" x="271"/></g>
<g id="m127"><text class="mn" x="511" y="-7">127</text><use href="#pP" x="511"/></g>
<g id="m128"><text class="mn" x="751" y="-7">128</text><rect class="b" x="751" y="41.5" width="240" height="7"/><circle class="b" cx="751" cy="45" r="5"/></g>
</g>

<g id="r32" transform="translate(0,5146.5)"><use href="#rowh"/>
<g id="m129"><text class="mn" x="31" y="-7">129</text><rect class="b" x="31" y="41.5" width="465" height="7"/></g>
<g id="m130"><text class="mn" x="271" y="-7">130</text><text class="sc s2" x="511" y="89.5">261963</text></g>
</g>
</g>
</svg>
